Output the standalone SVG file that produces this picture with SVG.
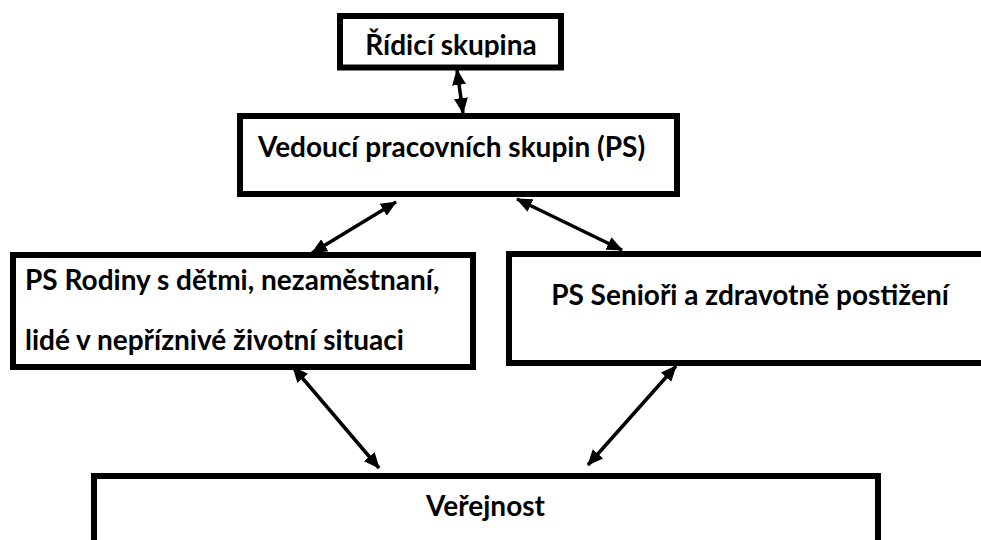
<svg xmlns="http://www.w3.org/2000/svg" width="981" height="540" viewBox="0 0 981 540">
<style>
.box{fill:#fff;stroke:#000;stroke-width:6}
.t{font-family:Lato,"Open Sans","Liberation Sans",sans-serif;font-weight:bold;font-size:28px;fill:#000}
.c{stroke:#000;stroke-width:3.5;fill:none;marker-start:url(#ah);marker-end:url(#ah)}
</style>
<defs>
<marker id="ah" viewBox="0 0 16 14" refX="15" refY="7" markerWidth="16" markerHeight="14" markerUnits="userSpaceOnUse" orient="auto-start-reverse">
<path d="M0,0 L16,7 L0,14 Z" fill="#000"/>
</marker>
<clipPath id="clipTop"><rect x="343" y="19" width="215" height="38.5"/></clipPath>
</defs>
<rect width="981" height="540" fill="#fff"/>
<g id="ridici">
<rect class="box" x="340" y="16" width="221" height="51.5"/>
<text class="t" x="451" y="55" text-anchor="middle" clip-path="url(#clipTop)">Řídicí skupina</text>
</g>
<g id="vedouci">
<rect class="box" x="240" y="116" width="437" height="78"/>
<text class="t" x="451.5" y="157" text-anchor="middle">Vedoucí pracovních skupin (PS)</text>
</g>
<g id="rodiny">
<rect class="box" x="13" y="255" width="460" height="112"/>
<text class="t" x="25" y="290">PS Rodiny s dětmi, nezaměstnaní,</text>
<text class="t" x="25" y="350">lidé v nepříznivé životní situaci</text>
</g>
<g id="seniori">
<rect class="box" x="509" y="254" width="500" height="109"/>
<text class="t" x="750" y="305" text-anchor="middle">PS Senioři a zdravotně postižení</text>
</g>
<g id="verejnost">
<rect class="box" x="94" y="476" width="784" height="100"/>
<text class="t" x="485.5" y="516" text-anchor="middle">Veřejnost</text>
</g>
<g id="connectors">
<line class="c" x1="457" y1="70" x2="463" y2="113"/>
<line class="c" x1="396" y1="202" x2="312" y2="253"/>
<line class="c" x1="517" y1="199" x2="622" y2="250"/>
<line class="c" x1="293" y1="367" x2="379" y2="468"/>
<line class="c" x1="676" y1="366" x2="588" y2="465"/>
</g>
</svg>
